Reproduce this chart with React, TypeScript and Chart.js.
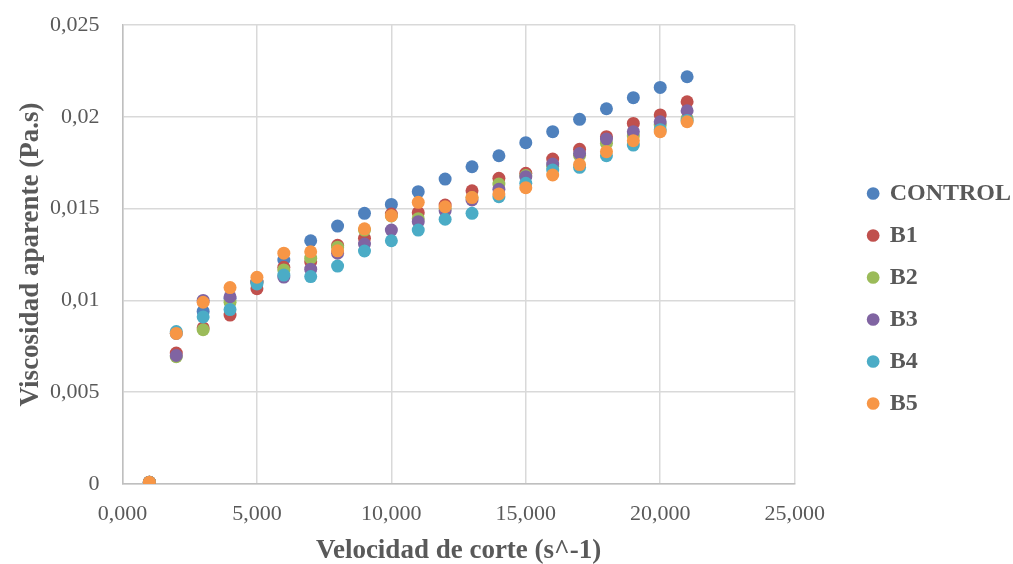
import React, { useEffect, useRef } from "react";
import { Chart, registerables } from "chart.js";

Chart.register(...registerables);

// Shear rate (s^-1)
const shearRates = [
  1000, 2000, 3000, 4000, 5000, 6000, 7000, 8000, 9000, 10000, 11000,
  12000, 13000, 14000, 15000, 16000, 17000, 18000, 19000, 20000, 21000,
];

// Apparent viscosity (Pa.s)
const control = [
  0.0001, 0.0082, 0.0094, 0.0101, 0.011, 0.0122, 0.01325, 0.01405, 0.01474,
  0.01523, 0.01592, 0.01661, 0.01728, 0.01788, 0.01859, 0.01919, 0.01986,
  0.02044, 0.02104, 0.0216, 0.02218,
];
const b1 = [
  0.0001, 0.00713, 0.0085, 0.0092, 0.01064, 0.0118, 0.0121, 0.013, 0.01338,
  0.0147, 0.01478, 0.01519, 0.01597, 0.01665, 0.01692, 0.0177, 0.01823,
  0.01892, 0.01964, 0.0201, 0.02082,
];
const b2 = [
  0.0001, 0.00693, 0.0084, 0.0099, 0.011, 0.01166, 0.0123, 0.0129, 0.01383,
  0.0146, 0.01445, 0.015, 0.0156, 0.01634, 0.0168, 0.0173, 0.0179, 0.01856,
  0.01895, 0.01955, 0.0199,
];
const b3 = [
  0.0001, 0.007, 0.01, 0.0102, 0.011, 0.01127, 0.0117, 0.01257, 0.01307,
  0.01383, 0.01429, 0.01488, 0.01547, 0.01605, 0.01674, 0.01743, 0.018,
  0.01879, 0.01919, 0.01973, 0.02033,
];
const b4 = [
  0.0001, 0.0083, 0.0091, 0.0095, 0.0109, 0.01138, 0.0113, 0.01187, 0.01269,
  0.01325, 0.01383, 0.01442, 0.01474, 0.01565, 0.01638, 0.0171, 0.01725,
  0.01788, 0.01846, 0.0193, 0.0198,
];
const b5 = [
  0.0001, 0.0082, 0.0099, 0.0107, 0.01126, 0.01257, 0.01265, 0.0127, 0.0139,
  0.01461, 0.01534, 0.0151, 0.0156, 0.0158, 0.01614, 0.01683, 0.0174, 0.0181,
  0.0187, 0.01919, 0.01973,
];

const seriesNames = ["CONTROL", "B1", "B2", "B3", "B4", "B5"];
const seriesValues = [control, b1, b2, b3, b4, b5];
const seriesColors = ["#4F81BD", "#C0504D", "#9BBB59", "#8064A2", "#4BACC6", "#F79646"];

const xTitle = "Velocidad de corte (s^-1)";
const yTitle = "Viscosidad aparente (Pa.s)";

const FONT = "'Liberation Serif', 'Times New Roman', serif";
const TEXT = "#595959";
const GRID = "#d9d9d9";
const AXIS = "#bfbfbf";

const EXTRA_W = 48;
const SHIFT_X = 56;
const SHIFT_Y = 4;

const legendNudge = {
  id: "legendNudge",
  beforeLayout(chart: any) {
    const lg = chart.legend;
    if (lg && !lg._nudged) {
      const orig = lg.fit.bind(lg);
      lg.fit = function () {
        orig();
        this.width += EXTRA_W;
      };
      lg._nudged = true;
    }
  },
  afterLayout(chart: any) {
    const lg = chart.legend;
    if (lg) {
      lg.left += SHIFT_X;
      lg.top += SHIFT_Y;
      lg.bottom += SHIFT_Y;
    }
  },
};

export default function App() {
  const ref = useRef<HTMLCanvasElement | null>(null);

  useEffect(() => {
    if (!ref.current) return;
    const datasets = seriesNames.map((name, i) => ({
      label: name,
      data: shearRates.map((x, j) => ({ x, y: seriesValues[i][j] })),
      backgroundColor: seriesColors[i],
      borderColor: seriesColors[i],
      pointRadius: 6.5,
      pointBorderWidth: 0,
      pointHoverRadius: 6.5,
      showLine: false,
      order: seriesNames.length - i,
    }));

    const chart = new Chart(ref.current, {
      type: "scatter",
      data: { datasets },
      plugins: [legendNudge],
      options: {
        animation: false,
        responsive: true,
        maintainAspectRatio: false,
        layout: { padding: { top: 25, left: 0, right: 0, bottom: 0 } },
        plugins: {
          tooltip: { enabled: false },
          legend: {
            position: "right",
            labels: {
              usePointStyle: true,
              pointStyle: "circle",
              boxWidth: 9,
              boxHeight: 9,
              padding: 18,
              color: TEXT,
              font: { family: FONT, size: 24, weight: "bold" },
              sort: (a: any, b: any) => a.datasetIndex - b.datasetIndex,
            },
          },
        },
        scales: {
          x: {
            type: "linear",
            min: 0,
            max: 25000,
            ticks: {
              stepSize: 5000,
              padding: 2,
              color: TEXT,
              font: { family: FONT, size: 22 },
              callback: (v: any) => (Number(v) / 1000).toFixed(3).replace(".", ","),
            },
            grid: {
              color: GRID,
              lineWidth: 1.5,
              drawTicks: true,
              tickLength: 15,
              tickColor: "rgba(0,0,0,0)",
            },
            border: { color: AXIS, width: 1.5 },
            title: {
              display: true,
              text: xTitle,
              color: TEXT,
              font: { family: FONT, size: 27, weight: "bold" },
              padding: { top: 5.4, bottom: -3.2 },
            },
          },
          y: {
            type: "linear",
            min: 0,
            max: 0.025,
            ticks: {
              stepSize: 0.005,
              padding: 2,
              color: TEXT,
              font: { family: FONT, size: 22 },
              callback: (v: any) =>
                parseFloat(Number(v).toFixed(3)).toString().replace(".", ","),
            },
            grid: {
              color: GRID,
              lineWidth: 1.5,
              drawTicks: true,
              tickLength: 21,
              tickColor: "rgba(0,0,0,0)",
            },
            border: { color: AXIS, width: 1.5 },
            title: {
              display: true,
              text: yTitle,
              color: TEXT,
              font: { family: FONT, size: 27, weight: "bold" },
              padding: { top: 15, bottom: 0.6 },
            },
          },
        },
      },
    });
    return () => chart.destroy();
  }, []);

  return (
    <>
      <style>{"html,body{margin:0;padding:0;overflow:hidden;}"}</style>
      <div style={{ position: "relative", width: 1013, height: 564 }}>
        <canvas ref={ref} />
      </div>
    </>
  );
}
